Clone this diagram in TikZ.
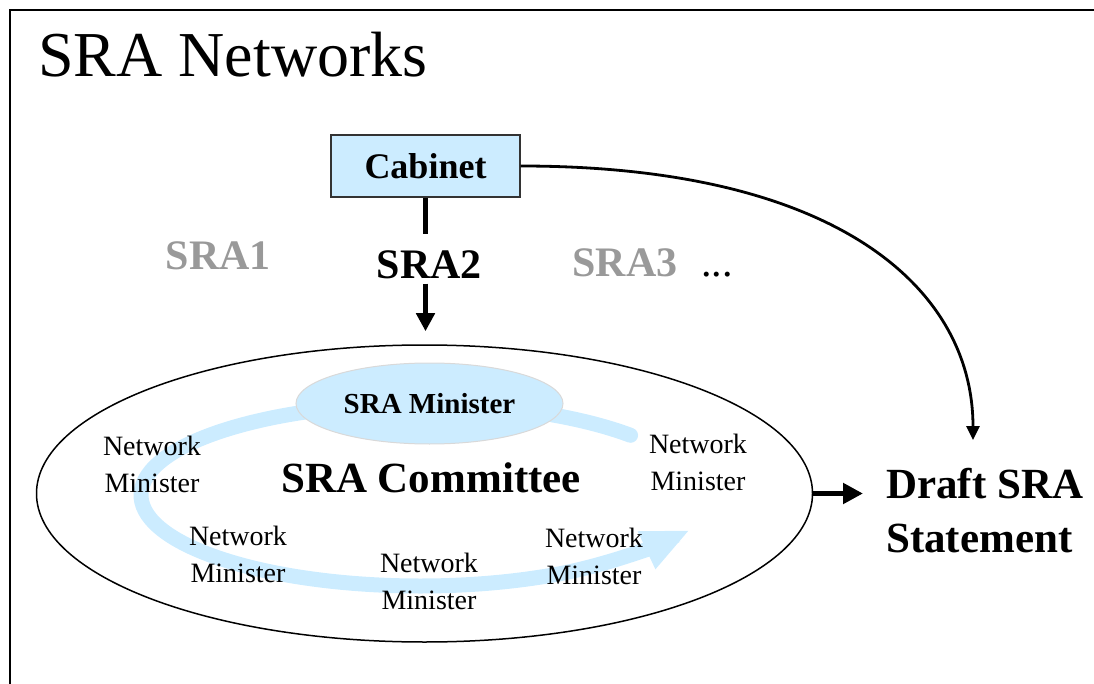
\documentclass[tikz,border=0pt]{standalone}
\usepackage{fontspec}
\setmainfont{Liberation Serif}
\usetikzlibrary{arrows.meta,shapes.geometric}
\definecolor{lblue}{HTML}{CCECFF}
\definecolor{sragray}{HTML}{999999}
\begin{document}
\begin{tikzpicture}[x=1pt,y=-1pt,
  netmin/.style={inner sep=0pt, align=center, font=\fontsize{28}{37}\selectfont},
  srabig/.style={inner sep=0pt, anchor=base, font=\bfseries\fontsize{42}{48}\selectfont},
  bar/.style={line width=5pt},
  band/.style={draw=lblue, line width=15pt, line cap=round},
  frameline/.style={line width=2pt}
]
\useasboundingbox (0,0) rectangle (1094,684);
% frame
\draw[frameline] (9.5,684) -- (9.5,10.5) -- (1094,10.5);
% title
\node[anchor=base west, inner sep=0pt, font=\fontsize{64}{70}\selectfont] (title) at (38,77) {SRA Networks};
% committee ellipse
\node[draw, ellipse, line width=1.5pt, minimum width=776pt, minimum height=297pt, inner sep=0pt] (committee) at (424.5,493.5) {};
% circulating band
\draw[band, -{Triangle[length=48pt,width=38pt]}] (420,495) ++(-41:279 and 91)
  arc[start angle=-41, end angle=-300, x radius=279, y radius=91]
  .. controls (607.8,564.7) and (658.3,544.8) .. (690,530);
% SRA minister
\node[ellipse, fill=lblue, draw=black!15, line width=1pt, minimum width=267pt, minimum height=81pt, inner sep=0pt, font=\bfseries\fontsize{29}{34}\selectfont] (sram) at (429.5,403.5) {SRA Minister};
% committee label
\node[inner sep=0pt, font=\bfseries\fontsize{43}{50}\selectfont] (comlabel) at (431,478) {SRA Committee};
% network ministers
\node[netmin] (nm1) at (152,464) {Network\\Minister};
\node[netmin] (nm2) at (698,462) {Network\\Minister};
\node[netmin] (nm3) at (238,554) {Network\\Minister};
\node[netmin] (nm4) at (429,581) {Network\\Minister};
\node[netmin] (nm5) at (594,556) {Network\\Minister};
% cabinet
\node[draw=black!80, fill=lblue, line width=1.2pt, minimum width=189pt, minimum height=62pt, inner sep=0pt, font=\bfseries\fontsize{36}{40}\selectfont] (cab) at (425.5,166) {Cabinet};
% SRA labels
\node[srabig, text=sragray] (sra1) at (218.5,270) {SRA1};
\node[srabig] (sra2) at (429.5,279) {SRA2};
\node[srabig, text=sragray] (sra3) at (625,277) {SRA3};
\node[anchor=base west, inner sep=0pt, font=\fontsize{42}{48}\selectfont] (dots) at (701,277) {...};
% draft statement
\node[anchor=north west, align=left, inner sep=0pt, font=\bfseries\fontsize{43}{54}\selectfont] (draft) at (886,468) {Draft SRA\\Statement};
\coordinate (dtop) at (973,440);
% connectors
\draw[bar, shorten >=17pt] (cab.south) -- (cab.south |- sra2.north);
\draw[bar, -{Triangle[length=18pt,width=18pt]}, shorten <=4pt, shorten >=13pt] (cab.south |- sra2.south) -- (cab.south |- committee.north);
\draw[line width=2.8pt, -{Triangle[length=14pt,width=13pt]}] (cab.east) .. controls (840,166) and (973,290) .. (dtop);
\draw[line width=5.5pt, -{Triangle[length=20pt,width=20pt]}, shorten >=23pt] (committee.east) -- (committee.east -| draft.west);
\end{tikzpicture}
\end{document}
